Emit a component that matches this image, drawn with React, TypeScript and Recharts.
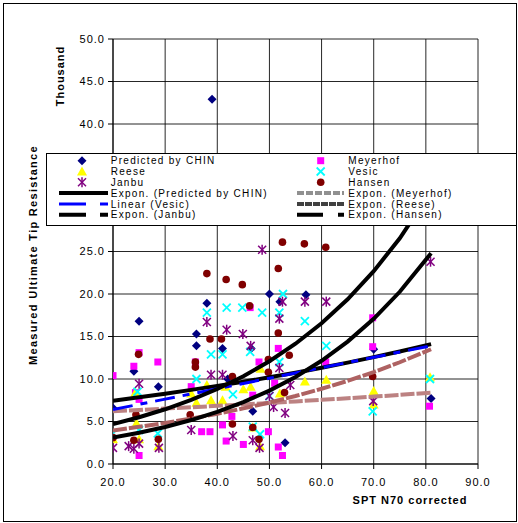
import { ScatterChart, Scatter, XAxis, YAxis, CartesianGrid } from 'recharts'

// measured points, [SPT N70, resistance in thousands]
const chinPts: [number, number][] = [
  [20, 6.6], [24, 10.9], [25, 16.8], [28.7, 9.1], [36, 15.3], [36, 13.9], [38, 18.9], [39, 42.9],
  [41, 13.6], [42, 10], [46.5, 13.6], [46.8, 6.2], [50, 20], [52, 19.1], [53, 2.5], [57, 19.9],
  [70, 13.5], [81, 7.7],
]
const meyerhofPts: [number, number][] = [
  [20, 10.4], [24, 11.5], [24.3, 8.4], [25, 13.1], [25, 7.6], [25, 1.0], [28.6, 12], [35, 9.1],
  [35.8, 12], [37, 3.8], [38.6, 3.8], [41, 4.6], [41.7, 2.7], [42.8, 5.6], [45, 2.3], [46.3, 18.4],
  [46.8, 8.1], [48, 12], [49.8, 3.8], [51, 9.5], [51.7, 13.6], [51.7, 2], [52.5, 1], [60.8, 12],
  [69.8, 17.2], [69.8, 13.8], [80.7, 6.8],
]
const reesePts: [number, number][] = [
  [20, 2.9], [24.3, 8.4], [24.5, 4.8], [25, 2.9], [28.7, 2.1], [35, 8.3], [36, 7.2], [38, 9.3],
  [38.8, 7.5], [41, 7.5], [41.6, 9.1], [45, 8.8], [46.4, 9.1], [46.8, 4.3], [48.3, 11.2], [48.2, 2.1],
  [52, 8.3], [56.8, 9.7], [60.9, 9.9], [70, 8.6], [70, 7.0], [80.8, 10.2],
]
const vesicPts: [number, number][] = [
  [20, 3.6], [24.7, 8.5], [25, 4.0], [28.6, 3.6], [36, 10], [38, 17.8], [38.8, 12.9], [41, 12.9],
  [41.8, 18.4], [43, 8.2], [44.8, 18.4], [46.3, 13.2], [46.8, 4.4], [48.2, 3.5], [48.6, 17.8], [50, 8],
  [51.9, 17.8], [51.9, 12], [52.6, 20], [56.8, 16.8], [60.9, 13.9], [69.8, 6.2], [80.8, 10],
]
const janbuPts: [number, number][] = [
  [20, 1.9], [23, 2.1], [24, 1.8], [25, 9.45], [25, 2.4], [28.8, 1.9], [35, 4], [38, 16.7],
  [38.8, 10.5], [41, 10.5], [41.8, 15.8], [43, 3.3], [44.9, 15.3], [46.4, 13.9], [46.8, 2.8],
  [48.1, 1.9], [48.6, 25.2], [50, 8], [50.8, 6.7], [51.9, 17.1], [51.9, 11.3], [52.5, 19.1], [53, 6],
  [54, 9.3], [56.8, 19.1], [60.9, 19.1], [69.9, 7.4], [80.9, 23.8],
]
const hansenPts: [number, number][] = [
  [20, 3.1], [24, 2.8], [24.4, 5.8], [24.9, 12.9], [28.7, 2.9], [34.8, 5.8], [35.8, 12], [35.8, 11.4],
  [38, 22.4], [38.6, 14.7], [40.8, 14.7], [41.7, 21.7], [42.9, 10.3], [42.9, 4.7], [44.8, 21.1],
  [46.2, 18.6], [46.8, 4.3], [48, 2.9], [49.8, 12.3], [49.8, 10.8], [51.7, 23], [51.7, 15.4],
  [52.5, 26.1], [52.9, 8.4], [53.8, 12.8], [56.7, 25.9], [60.8, 25.5], [69.8, 10.3],
]

// trendlines at these x positions
const trendX = [20, 25, 30, 35, 40, 45, 50, 55, 60, 65, 70, 75, 81]
const chinTrend = [7.45, 7.85, 8.27, 8.72, 9.19, 9.68, 10.2, 10.74, 11.32, 11.93, 12.57, 13.24, 14.1]
const janbuTrend = [4.7, 5.5, 6.44, 7.54, 8.82, 10.33, 12.09, 14.15, 16.56, 19.38, 22.69, 26.55, 32.1]
const hansenTrend = [3.1, 3.68, 4.36, 5.17, 6.13, 7.28, 8.63, 10.24, 12.14, 14.4, 17.08, 20.26, 24.8]
const vesicTrend = [6.4, 7.02, 7.63, 8.25, 8.86, 9.48, 10.09, 10.71, 11.32, 11.94, 12.55, 13.17, 13.9]
const meyerhofTrend = [3.95, 4.37, 4.83, 5.34, 5.91, 6.54, 7.23, 8.0, 8.85, 9.78, 10.82, 11.97, 13.5]
const reeseTrend = [6.2, 6.36, 6.52, 6.67, 6.84, 7.01, 7.18, 7.36, 7.55, 7.73, 7.93, 8.13, 8.4]

const xTicks = [20, 30, 40, 50, 60, 70, 80, 90]
const yTicks = [0, 5, 10, 15, 20, 25, 30, 35, 40, 45, 50]

const FONT = "'Liberation Sans', Arial, sans-serif"

const toPts = (pts: [number, number][]) => pts.map(([x, y]) => ({ x, y }))
const toTrend = (ys: number[]) => ys.map((y, i) => ({ x: trendX[i], y }))

const Diamond = ({ cx, cy }: any) => (
  <polygon points={`${cx},${cy - 4.5} ${cx + 4.5},${cy} ${cx},${cy + 4.5} ${cx - 4.5},${cy}`} fill="#000080" />
)
const Square = ({ cx, cy }: any) => <rect x={cx - 3.5} y={cy - 3.5} width={7} height={7} fill="#FF00FF" />
const Triangle = ({ cx, cy }: any) => (
  <polygon points={`${cx},${cy - 5} ${cx + 5},${cy + 4} ${cx - 5},${cy + 4}`} fill="#FFFF00" />
)
const Cross = ({ cx, cy }: any) => (
  <g stroke="#00FFFF" strokeWidth={1.8}>
    <line x1={cx - 4} y1={cy - 4} x2={cx + 4} y2={cy + 4} />
    <line x1={cx - 4} y1={cy + 4} x2={cx + 4} y2={cy - 4} />
  </g>
)
const Star = ({ cx, cy }: any) => (
  <g stroke="#800080" strokeWidth={1.5}>
    <line x1={cx - 4} y1={cy - 4} x2={cx + 4} y2={cy + 4} />
    <line x1={cx - 4} y1={cy + 4} x2={cx + 4} y2={cy - 4} />
    <line x1={cx} y1={cy - 5} x2={cx} y2={cy + 5} />
  </g>
)
const Dot = ({ cx, cy }: any) => <circle cx={cx} cy={cy} r={3.8} fill="#800000" />
const NoShape = () => <g />

function LegendBox() {
  const rowY = [7.7, 18.5, 29.3, 40.1, 50.9, 61.7]
  const txt = { fontFamily: FONT, fontSize: 10, letterSpacing: 1.3, fill: '#000' }
  return (
    <svg width={472} height={74} style={{ position: 'absolute', left: 46, top: 153 }}>
      <rect x={0.5} y={0.5} width={470} height={72} fill="#fff" stroke="#000" />
      <Diamond cx={36} cy={rowY[0]} />
      <Triangle cx={36} cy={rowY[1]} />
      <Star cx={36} cy={rowY[2]} />
      <line x1={13} x2={62} y1={rowY[3]} y2={rowY[3]} stroke="#000" strokeWidth={4} />
      <line x1={13} x2={62} y1={rowY[4]} y2={rowY[4]} stroke="#0000FF" strokeWidth={3} strokeDasharray="27 14 8" />
      <line x1={13} x2={62} y1={rowY[5]} y2={rowY[5]} stroke="#000" strokeWidth={4} strokeDasharray="27 14 8" />
      <text x={64.7} y={rowY[0] + 3.6} {...txt}>Predicted by CHIN</text>
      <text x={64.7} y={rowY[1] + 3.6} {...txt}>Reese</text>
      <text x={64.7} y={rowY[2] + 3.6} {...txt}>Janbu</text>
      <text x={64.7} y={rowY[3] + 3.6} {...txt}>Expon. (Predicted by CHIN)</text>
      <text x={64.7} y={rowY[4] + 3.6} {...txt}>Linear (Vesic)</text>
      <text x={64.7} y={rowY[5] + 3.6} {...txt}>Expon. (Janbu)</text>

      <Square cx={274.7} cy={rowY[0]} />
      <Cross cx={274.7} cy={rowY[1]} />
      <Dot cx={274.7} cy={rowY[2]} />
      <line x1={251} x2={298} y1={rowY[3]} y2={rowY[3]} stroke="#909090" strokeWidth={4} strokeDasharray="7 2" />
      <line x1={251} x2={298} y1={rowY[4]} y2={rowY[4]} stroke="#404040" strokeWidth={4} strokeDasharray="7 1" />
      <line x1={251} x2={298} y1={rowY[5]} y2={rowY[5]} stroke="#000" strokeWidth={4} strokeDasharray="26 15 8" />
      <text x={302.3} y={rowY[0] + 3.6} {...txt}>Meyerhof</text>
      <text x={302.3} y={rowY[1] + 3.6} {...txt}>Vesic</text>
      <text x={302.3} y={rowY[2] + 3.6} {...txt}>Hansen</text>
      <text x={302.3} y={rowY[3] + 3.6} {...txt}>Expon. (Meyerhof)</text>
      <text x={302.3} y={rowY[4] + 3.6} {...txt}>Expon. (Reese)</text>
      <text x={302.3} y={rowY[5] + 3.6} {...txt}>Expon. (Hansen)</text>
    </svg>
  )
}

const titleStyle = {
  position: 'absolute' as const,
  fontFamily: FONT,
  fontSize: 11,
  fontWeight: 'bold' as const,
  letterSpacing: 1,
  whiteSpace: 'nowrap' as const,
}

export default function App() {
  const tick = { fill: '#000', fontSize: 11, fontFamily: FONT, letterSpacing: 1 }
  return (
    <div style={{ position: 'absolute', left: 0, top: 0, width: 518, height: 523, background: '#fff' }}>
      <div style={{ position: 'absolute', left: 3, top: 3, width: 512, height: 517, border: '1px solid #000' }} />
      <ScatterChart width={518} height={523} margin={{ top: 39, right: 40, bottom: 0, left: 0 }}>
        <CartesianGrid stroke="#000" strokeOpacity={0.85} horizontalValues={yTicks} verticalValues={xTicks} />
        <XAxis
          type="number"
          dataKey="x"
          domain={[20, 90]}
          ticks={xTicks}
          height={59}
          tickSize={5}
          tickMargin={9}
          tick={tick}
          tickFormatter={(v: number) => v.toFixed(1)}
          stroke="#000"
          allowDataOverflow
        />
        <YAxis
          type="number"
          dataKey="y"
          domain={[0, 50]}
          ticks={yTicks}
          width={113}
          tickSize={5}
          tickMargin={3}
          tick={tick}
          tickFormatter={(v: number) => v.toFixed(1)}
          stroke="#000"
          allowDataOverflow
        />
        <Scatter data={toPts(chinPts)} shape={Diamond} isAnimationActive={false} />
        <Scatter data={toPts(meyerhofPts)} shape={Square} isAnimationActive={false} />
        <Scatter data={toPts(reesePts)} shape={Triangle} isAnimationActive={false} />
        <Scatter data={toPts(vesicPts)} shape={Cross} isAnimationActive={false} />
        <Scatter data={toPts(janbuPts)} shape={Star} isAnimationActive={false} />
        <Scatter data={toPts(hansenPts)} shape={Dot} isAnimationActive={false} />

        <Scatter data={toTrend(reeseTrend)} shape={NoShape} line={{ stroke: '#BC8282', strokeWidth: 4, strokeDasharray: '14 2' }} isAnimationActive={false} />
        <Scatter data={toTrend(meyerhofTrend)} shape={NoShape} line={{ stroke: '#AE6262', strokeWidth: 4, strokeDasharray: '14 2' }} isAnimationActive={false} />
        <Scatter data={toTrend(chinTrend)} shape={NoShape} line={{ stroke: '#000', strokeWidth: 4 }} isAnimationActive={false} />
        <Scatter data={toTrend(vesicTrend)} shape={NoShape} line={{ stroke: '#0000FF', strokeWidth: 3, strokeDasharray: '20 8 7 8' }} isAnimationActive={false} />
        <Scatter data={toTrend(janbuTrend)} shape={NoShape} line={{ stroke: '#000', strokeWidth: 4 }} isAnimationActive={false} />
        <Scatter data={toTrend(hansenTrend)} shape={NoShape} line={{ stroke: '#000', strokeWidth: 4 }} isAnimationActive={false} />
      </ScatterChart>
      <LegendBox />
      <div style={{ ...titleStyle, left: 33, top: 255, letterSpacing: 1.3, transform: 'translate(-50%, -50%) rotate(-90deg)' }}>
        Measured Ultimate Tip Resistance
      </div>
      <div style={{ ...titleStyle, left: 60, top: 76, transform: 'translate(-50%, -50%) rotate(-90deg)' }}>
        Thousand
      </div>
      <div style={{ ...titleStyle, left: 410, top: 500, transform: 'translate(-50%, -50%)' }}>
        SPT N70 corrected
      </div>
    </div>
  )
}
